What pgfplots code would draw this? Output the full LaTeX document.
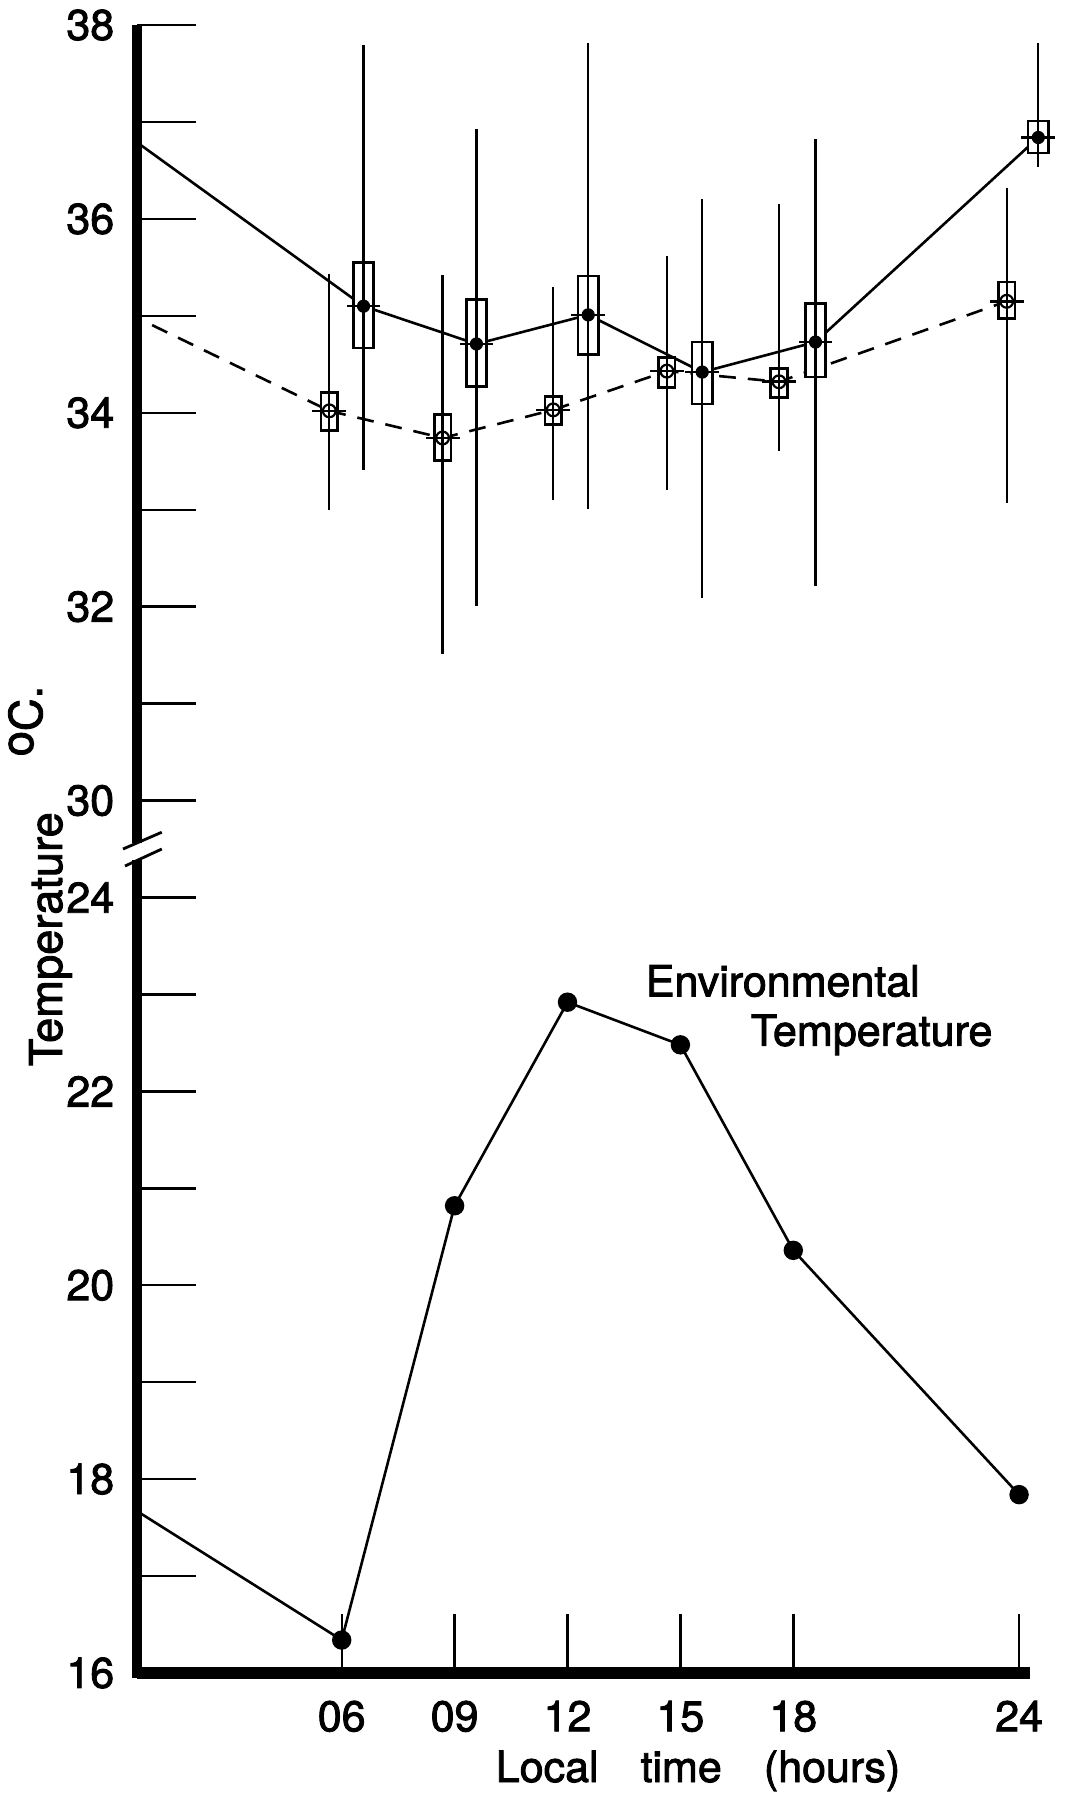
\documentclass[border=0pt]{standalone}
\usepackage{fontspec}
\setmainfont{TeX Gyre Heros}[FakeBold=2]
\usepackage{pgfplots}
\usepackage{pgfplotstable}
\pgfplotsset{compat=1.18}

% Upper panel (body temperature, degC): x = plotting position (h),
% m = mean, bhi/blo = box limits, ehi/elo = range
\pgfplotstableread{
x     m      bhi    blo    ehi    elo
5.67  34.02  34.21  33.82  35.43  33.00
8.68  33.74  33.98  33.51  35.42  31.51
11.62 34.03  34.17  33.88  35.30  33.10
14.64 34.43  34.57  34.26  35.62  33.20
17.62 34.32  34.46  34.16  36.15  33.61
23.67 35.15  35.35  34.97  36.32  33.07
}\dtab
\pgfplotstableread{
x     m      bhi    blo    ehi    elo
6.58  35.10  35.55  34.67  37.79  33.41
9.58  34.71  35.17  34.27  36.93  32.01
12.55 35.01  35.41  34.60  37.81  33.01
15.58 34.42  34.73  34.09  36.21  32.09
18.59 34.73  35.13  34.37  36.82  32.21
24.51 36.84  37.01  36.68  37.81  36.54
}\stab
% Environmental temperature
\pgfplotstableread{
x  t
6  16.34
9  20.82
12 22.92
15 22.48
18 20.36
24 17.84
}\etab

\newcommand{\drawboxes}[4]{%
  \addplot[draw=none, mark=none, error bars/.cd, y dir=both, y explicit, error mark=none,
    error bar style={draw=white, line width=#3}]
    table[x=x, y expr={0.5*(\thisrow{bhi}+\thisrow{blo})}, y error expr={0.5*(\thisrow{bhi}-\thisrow{blo})}] {#1};
  \addplot[draw=none, mark=none, error bars/.cd, y dir=both, y explicit, error mark=none,
    error bar style={draw=black, line width=0.65pt, line cap=rect}]
    table[x expr={\thisrow{x}-#2}, y expr={0.5*(\thisrow{bhi}+\thisrow{blo})}, y error expr={0.5*(\thisrow{bhi}-\thisrow{blo})}] {#1};
  \addplot[draw=none, mark=none, error bars/.cd, y dir=both, y explicit, error mark=none,
    error bar style={draw=black, line width=0.65pt, line cap=rect}]
    table[x expr={\thisrow{x}+#2}, y expr={0.5*(\thisrow{bhi}+\thisrow{blo})}, y error expr={0.5*(\thisrow{bhi}-\thisrow{blo})}] {#1};
  \addplot[draw=none, mark=none, error bars/.cd, x dir=both, x fixed=#2, error mark=none,
    error bar style={draw=black, line width=0.65pt}]
    table[x=x, y=bhi] {#1};
  \addplot[draw=none, mark=none, error bars/.cd, x dir=both, x fixed=#2, error mark=none,
    error bar style={draw=black, line width=0.65pt}]
    table[x=x, y=blo] {#1};
  \addplot[draw=none, mark=none, error bars/.cd, y dir=both, y explicit, error mark=none,
    error bar style={draw=black, line width=0.55pt}]
    table[x=x, y=m, y error plus expr={\thisrow{ehi}-\thisrow{m}}, y error minus expr={\thisrow{m}-\thisrow{elo}}] {#1};
  \addplot[black, only marks, #4, error bars/.cd, x dir=both, x fixed=0.45, error mark=none,
    error bar style={draw=black, line width=0.65pt}]
    table[x=x, y=m] {#1};
}

\begin{document}
\begin{tikzpicture}
\pgfplotsset{
  common/.style={
    scale only axis, width=223.25pt, height=206pt,
    xmin=0.56, xmax=24.29, clip=false,
    axis line style={-},
    tick align=inside, major tick length=14.7pt,
    tick style={black, line width=0.6pt},
    /pgf/number format/assume math mode=true,
    tick label style={font=\fontsize{10.75}{12}\selectfont},
    yticklabel style={anchor=east, inner sep=0pt, xshift=-5.5pt},
  }
}
% ---------------- lower panel ----------------
\begin{axis}[common, name=lo, at={(0,0)}, anchor=south west,
  axis x line*=bottom, axis y line*=left,
  x axis line style={line width=3pt},
  y axis line style={line width=2.5pt, line cap=rect},
  ymin=16, ymax=24.5,
  ytick={16,17,...,24}, yticklabels={16,,18,,20,,22,,24},
  xtick={6,9,12,15,18,24}, xticklabels={06,09,12,15,18,24},
  xticklabel style={anchor=north, inner sep=0pt, yshift=-6.75pt},
]
\addplot[black, line width=0.65pt, mark=none] coordinates {(0.56,17.67) (6,16.34)};
\addplot[black, line width=0.65pt, mark=*, mark size=2.1pt] table[x=x, y=t] {\etab};
\node[anchor=base west, inner sep=0pt, font=\fontsize{10.75}{12}\selectfont] at (axis cs:14.06,22.98) {Environmental};
\node[anchor=base west, inner sep=0pt, font=\fontsize{10.75}{12}\selectfont] at (axis cs:16.85,22.47) {Temperature};
\node[anchor=base, inner sep=0pt, font=\fontsize{10.75}{12}\selectfont] at ([yshift=-27.25pt]axis cs:15.47,16) {Local\hspace{0.7em} time\hspace{0.7em} (hours)};
\node[rotate=90, anchor=base west, inner sep=0pt, font=\fontsize{11.3}{12}\selectfont] at ([shift={(-18.75pt,151.5pt)}]rel axis cs:0,0) {Temperature};
\node[rotate=90, anchor=base west, inner sep=0pt, font=\fontsize{11.3}{12}\selectfont] at ([shift={(-23.75pt,229pt)}]rel axis cs:0,0) {\raisebox{2.25pt}{o}C.};
\end{axis}
% ---------------- upper panel ----------------
\begin{axis}[common, name=up, at={(lo.north west)}, anchor=south west,
  axis x line=none, axis y line*=left,
  y axis line style={line width=2.5pt},
  ymin=29.5, ymax=38,
  ytick={30,31,...,38}, yticklabels={30,,32,,34,,36,,38},
]
\addplot[black, line width=0.65pt, dash pattern=on 4.2pt off 3pt, dash phase=3pt] coordinates {(0.56,34.98) (5.67,34.02)};
\addplot[black, line width=0.65pt, dash pattern=on 4.2pt off 3pt] table[x=x, y=m] {\dtab};
\addplot[black, line width=0.65pt] coordinates {(0.56,36.79) (6.58,35.10)};
\addplot[black, line width=0.65pt] table[x=x, y=m] {\stab};
\drawboxes{\dtab}{0.22}{4.14pt}{mark=o, mark size=1.6pt, mark options={line width=0.55pt}}
\drawboxes{\stab}{0.27}{5.08pt}{mark=*, mark size=1.45pt}
\end{axis}
% axis break
\fill[white] ([shift={(-1.6pt,-2.7pt)}]lo.north west) rectangle ([shift={(1.6pt,1.4pt)}]lo.north west);
\draw[line width=0.7pt] ([shift={(-3.5pt,0pt)}]lo.north west) -- ([shift={(6.2pt,4.2pt)}]lo.north west);
\draw[line width=0.7pt] ([shift={(-3pt,-4.25pt)}]lo.north west) -- ([shift={(6.2pt,0pt)}]lo.north west);
\pgfresetboundingbox
\path ([shift={(-34.25pt,-30.25pt)}]lo.south west) rectangle ([shift={(231.75pt,418.25pt)}]lo.south west);
\end{tikzpicture}
\end{document}
